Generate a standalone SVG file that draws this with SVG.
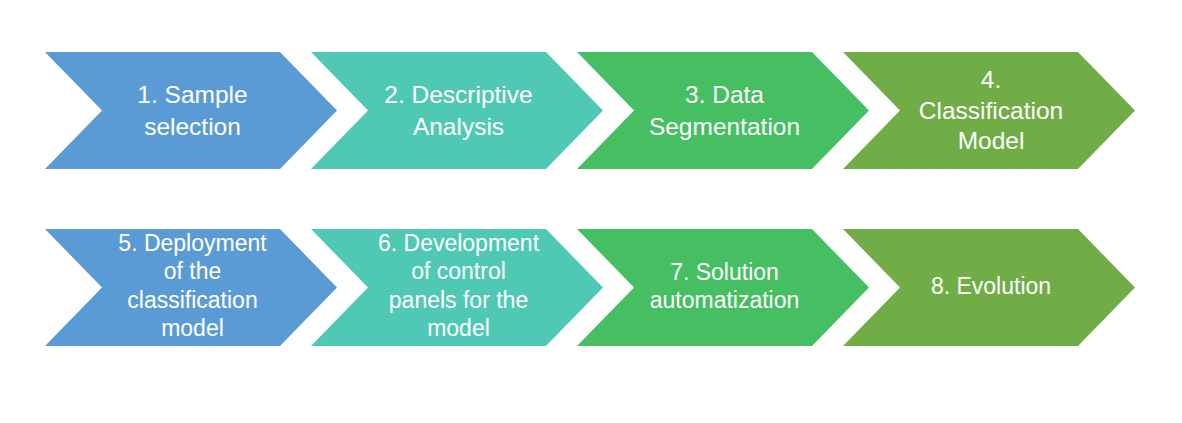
<svg xmlns="http://www.w3.org/2000/svg" width="1182" height="423" viewBox="0 0 1182 423">
<style>
.t{font-family:"Liberation Sans",Arial,sans-serif;fill:#ffffff;text-anchor:middle}
.r1{font-size:24.5px}
.r2{font-size:23px}
.c1{fill:#5B9BD5}.c2{fill:#4FC9B4}.c3{fill:#46BF63}.c4{fill:#70AD47}
</style>
<defs>
<polygon id="chev1" points="0,52 235,52 292,110.5 235,169 0,169 57,110.5"/>
<polygon id="chev2" points="0,229 235,229 292,287.5 235,346 0,346 57,287.5"/>
</defs>
<rect width="1182" height="423" fill="#ffffff"/>
<g id="connectors"/>
<g id="n1"><use href="#chev1" x="45" class="c1"/>
<text class="t r1"><tspan x="192.5" y="103">1. Sample</tspan><tspan x="192.5" y="135">selection</tspan></text></g>
<g id="n2"><use href="#chev1" x="311" class="c2"/>
<text class="t r1"><tspan x="458.5" y="103">2. Descriptive</tspan><tspan x="458.5" y="135">Analysis</tspan></text></g>
<g id="n3"><use href="#chev1" x="577" class="c3"/>
<text class="t r1"><tspan x="724.5" y="103">3. Data</tspan><tspan x="724.5" y="135">Segmentation</tspan></text></g>
<g id="n4"><use href="#chev1" x="843" class="c4"/>
<text class="t r1"><tspan x="991" y="87.5">4.</tspan><tspan x="991" y="118.5">Classification</tspan><tspan x="991" y="149">Model</tspan></text></g>
<g id="n5"><use href="#chev2" x="45" class="c1"/>
<text class="t r2"><tspan x="192.5" y="251">5. Deployment</tspan><tspan x="192.5" y="279">of the</tspan><tspan x="192.5" y="307.5">classification</tspan><tspan x="192.5" y="336">model</tspan></text></g>
<g id="n6"><use href="#chev2" x="311" class="c2"/>
<text class="t r2"><tspan x="458.5" y="251">6. Development</tspan><tspan x="458.5" y="279">of control</tspan><tspan x="458.5" y="307.5">panels for the</tspan><tspan x="458.5" y="336">model</tspan></text></g>
<g id="n7"><use href="#chev2" x="577" class="c3"/>
<text class="t r2"><tspan x="724.5" y="280">7. Solution</tspan><tspan x="724.5" y="308">automatization</tspan></text></g>
<g id="n8"><use href="#chev2" x="843" class="c4"/>
<text class="t r2"><tspan x="991" y="294">8. Evolution</tspan></text></g>
</svg>
